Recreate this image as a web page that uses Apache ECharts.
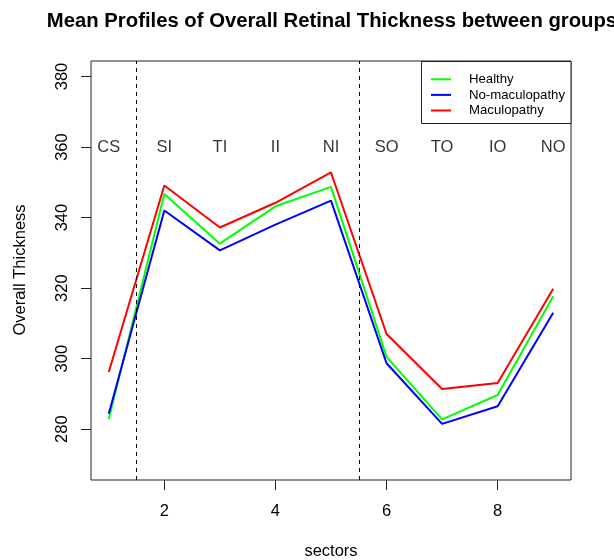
<!DOCTYPE html>
<html>
<head>
<meta charset="utf-8">
<script src="https://cdn.jsdelivr.net/npm/echarts@6/dist/echarts.min.js"></script>
<style>
html,body{margin:0;padding:0;background:#fff;}
#chart{width:614px;height:560px;}
</style>
</head>
<body>
<div id="chart"></div>
<script>
var sectorPos = [1, 2, 3, 4, 5, 6, 7, 8, 9];
var sectorLabels = ['CS', 'SI', 'TI', 'II', 'NI', 'SO', 'TO', 'IO', 'NO'];
var healthy = [282.8, 346.7, 332.6, 343.2, 348.7, 300.5, 282.8, 289.7, 317.7];
var noMaculopathy = [284.4, 342.0, 330.7, 338.0, 344.8, 298.7, 281.5, 286.5, 313.0];
var maculopathy = [296.2, 349.1, 337.2, 344.2, 352.8, 307.0, 291.4, 293.1, 319.8];
var xTicks = [2, 4, 6, 8];
var yTicks = [280, 300, 320, 340, 360, 380];
var dividers = [1.5, 5.5];
var labelLevel = 360;

var FONT = '"Liberation Sans", Arial, sans-serif';
function pairs(vals) { return sectorPos.map(function (x, i) { return [x, vals[i]]; }); }

var chart = echarts.init(document.getElementById('chart'), null, {renderer: 'canvas'});
var option = {
  animation: false,
  backgroundColor: '#ffffff',
  textStyle: {fontFamily: FONT},
  grid: {left: 91, right: 43, top: 61, bottom: 80, show: true, borderColor: '#222', borderWidth: 1, backgroundColor: 'transparent'},
  xAxis: {
    type: 'value', min: 0.68, max: 9.32,
    axisLine: {show: false},
    splitLine: {show: false},
    axisTick: {show: true, customValues: xTicks, length: 10, lineStyle: {color: '#222'}},
    axisLabel: {customValues: xTicks, margin: 23, fontSize: 16.5, color: '#000', fontFamily: FONT}
  },
  yAxis: {
    type: 'value', min: 265.6, max: 384.4,
    axisLine: {show: false},
    splitLine: {show: false},
    axisTick: {show: true, customValues: yTicks, length: 10, lineStyle: {color: '#222'}},
    axisLabel: {customValues: yTicks, rotate: 90, margin: 20, fontSize: 16.5, color: '#000', fontFamily: FONT}
  },
  legend: {
    orient: 'vertical', left: 431, top: 71.5, z: 10, padding: 0,
    itemWidth: 20, itemHeight: 2, itemGap: 0,
    icon: 'rect',
    textStyle: {fontSize: 13.2, color: '#000', fontFamily: FONT, lineHeight: 15.6, padding: [0, 0, 0, 13]},
    data: ['Healthy', 'No-maculopathy', 'Maculopathy']
  },
  graphic: [
    {type: 'rect', shape: {x: 421.5, y: 61.5, width: 149.5, height: 62}, style: {fill: '#fff', stroke: '#222', lineWidth: 1}, z: 3},
    {type: 'text', x: 332, y: 21, style: {text: 'Mean Profiles of Overall Retinal Thickness between groups', font: 'bold 20.3px ' + FONT, fill: '#000', textAlign: 'center', textVerticalAlign: 'middle'}},
    {type: 'text', x: 331, y: 551, style: {text: 'sectors', font: '16.5px ' + FONT, fill: '#000', textAlign: 'center', textVerticalAlign: 'middle'}},
    {type: 'text', x: 20, y: 270, rotation: Math.PI / 2, style: {text: 'Overall Thickness', font: '16.5px ' + FONT, fill: '#000', textAlign: 'center', textVerticalAlign: 'middle'}}
  ],
  series: [
    {name: 'Healthy', type: 'line', data: pairs(healthy), symbol: 'none', itemStyle: {color: '#00ff00'}, lineStyle: {color: '#00ff00', width: 2}, z: 2,
     markLine: {silent: true, symbol: 'none', label: {show: false}, lineStyle: {color: '#000', type: [4, 4], width: 1},
       data: dividers.map(function (d) { return {xAxis: d}; })}},
    {name: 'No-maculopathy', type: 'line', data: pairs(noMaculopathy), symbol: 'none', itemStyle: {color: '#0000ff'}, lineStyle: {color: '#0000ff', width: 2}, z: 3},
    {name: 'Maculopathy', type: 'line', data: pairs(maculopathy), symbol: 'none', itemStyle: {color: '#ff0000'}, lineStyle: {color: '#ff0000', width: 2}, z: 4},
    {name: 'labels', type: 'scatter', symbolSize: 0, silent: true,
     data: sectorPos.map(function (x, i) { return {value: [x, labelLevel], name: sectorLabels[i]}; }),
     label: {show: true, position: 'inside', formatter: function (p) { return p.name; }, fontSize: 16.5, color: '#000', fontFamily: FONT}}
  ]
};
chart.setOption(option);
</script>
</body>
</html>
